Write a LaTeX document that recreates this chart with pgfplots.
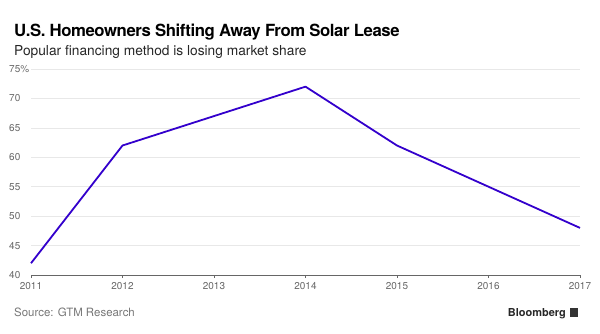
\documentclass[border=0pt]{standalone}
\usepackage{pgfplots}
\pgfplotsset{compat=1.18}
\usepackage{fontspec}
\setmainfont{TeX Gyre Heros}
\definecolor{lineblue}{HTML}{3300CC}
\definecolor{gridc}{HTML}{E8E8E8}
\definecolor{tickc}{HTML}{666666}
\definecolor{srcc}{HTML}{777777}
\begin{document}
\begin{tikzpicture}[x=1bp,y=1bp]
\path[use as bounding box] (0,0) rectangle (600,333);
\node[anchor=base west, inner sep=0, font=\fontsize{16.8}{17}\selectfont\bfseries\addfontfeatures{LetterSpace=-2.5}] at (14,297) {U.S. Homeowners Shifting Away From Solar Lease};
\node[anchor=base west, inner sep=0, font=\fontsize{13.8}{15}\selectfont, text=black!85] at (14,278) {Popular financing method is losing market share};
\node[anchor=base west, inner sep=0, font=\fontsize{11.5}{12}\selectfont, text=srcc] at (14,17) {Source: GTM Research};
\node[anchor=base east, inner sep=0, font=\fontsize{11}{12}\selectfont\bfseries, text=black!85] at (566,17) {Bloomberg};
\fill[black!80] (569.5,16.5) rectangle (577.5,25.5);
\begin{axis}[at={(31bp,58bp)}, anchor=south west, scale only axis,
  width=549bp, height=206bp,
  xmin=2011, xmax=2017, ymin=40, ymax=75,
  clip=false,
  axis x line*=bottom, axis y line*=left,
  y axis line style={draw=none},
  x axis line style={draw=tickc, line width=0.6bp},
  xtick={2011,2012,...,2017},
  xticklabels={2011,2012,2013,2014,2015,2016,2017},
  ytick={40,45,...,75},
  yticklabels={40,45,50,55,60,65,70,75\%},
  ymajorgrids, grid style={gridc, line width=0.5bp},
  ytick style={draw=none},
  xtick style={draw=tickc, line width=0.6bp},
  tick align=outside, major tick length=3bp,
  /pgf/number format/assume math mode=true,
  tick label style={font=\fontsize{10}{10}\selectfont, text=tickc},
  yticklabel style={anchor=west, inner sep=0pt, xshift=-19bp},
  xticklabel style={inner sep=0pt, yshift=-4bp},
]
\addplot[lineblue, line width=1.8bp, line join=round] coordinates {(2011,42)(2012,62)(2013,67)(2014,72)(2015,62)(2016,55)(2017,48)};
\end{axis}
\end{tikzpicture}
\end{document}
